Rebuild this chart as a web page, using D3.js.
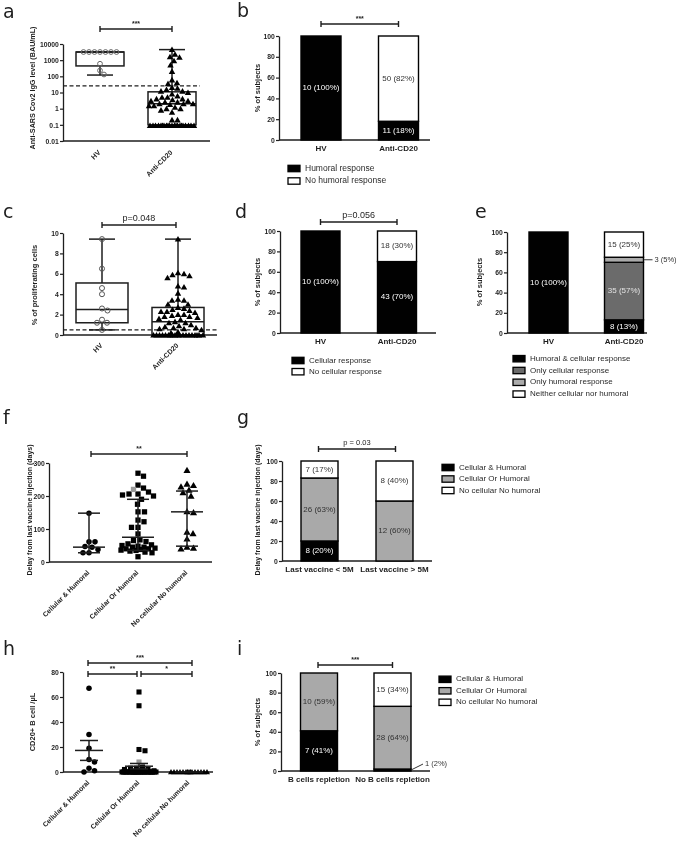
<!DOCTYPE html>
<html><head><meta charset="utf-8">
<script src="https://cdn.jsdelivr.net/npm/d3@7"></script>
<style>html,body{margin:0;padding:0;background:#fff;overflow:hidden}svg{display:block;opacity:0.999;will-change:transform}</style>
</head><body>
<svg id="c" width="676" height="842"></svg>
<script>
// ================= DATA =================
const grpHV = ["HV", "Anti-CD20"];
const grp3 = ["Cellular & Humoral", "Cellular Or Humoral", "No cellular No humoral"];
const grpDelay = ["Last vaccine < 5M", "Last vaccine > 5M"];
const grpBcell = ["B cells repletion", "No B cells repletion"];

// (a) anti-SARS-CoV2 IgG, BAU/mL
const iggHV = [3200, 3200, 3200, 3200, 3200, 3200, 3200, 600, 230, 130];
const iggCD20 = [0.09,0.09,0.09,0.09,0.09,0.09,0.09,0.09,0.09,0.09,0.09,0.09,0.09,0.09,0.09,0.09,0.09,0.09,0.09,0.09,0.09,
  0.2, 0.2, 0.6, 0.8, 1, 1, 1.2, 1.5, 1.5, 1.8,
  2, 2, 2, 2.5, 2.5, 3, 3, 3.5, 4, 4, 5, 5, 6, 8, 10, 12, 12, 15, 18, 20, 35, 40, 60,
  200, 500, 900, 1500, 1600, 2300, 4500];
const iggBoxHV = [120, 440, 3200, 3200, 3200];     // min, q1, median, q3, max
const iggBoxCD20 = [0.085, 0.1, 2, 11, 4500];
const iggCutoff = 26;
const iggTicks = [0.01, 0.1, 1, 10, 100, 1000, 10000];

// (b) humoral response
const humoralSeries = ["Humoral response", "No humoral response"];
const humoralPct = [[100, 0], [18, 82]];
const humoralN = [[10, 0], [11, 50]];

// (c) % proliferating cells
const prolHV = [9.4, 6.5, 4.6, 4.0, 2.6, 2.4, 1.5, 1.2, 1.2, 0.5];
const prolCD20 = [9.4, 6.1, 6.0, 5.9, 5.8, 5.6, 4.8, 4.7, 4.1, 3.5, 3.4, 3.4, 3.0, 3.0,
  2.7, 2.6, 2.5, 2.4, 2.3, 2.3, 2.2, 2.0, 2.0, 1.9, 1.8, 1.8, 1.7, 1.6, 1.5, 1.3, 1.2, 1.2, 1.0,
  0.9, 0.8, 0.7, 0.7, 0.6, 0.6, 0.5, 0.3, 0.2,
  0,0,0,0,0,0,0,0,0,0,0,0,0,0,0,0,0,0,0];
const prolBoxHV = [0.5, 1.2, 2.5, 5.1, 9.4];
const prolBoxCD20 = [0, 0, 1.3, 2.7, 9.4];
const prolCutoff = 0.5;
const prolTicks = [0, 2, 4, 6, 8, 10];

// (d) cellular response
const cellSeries = ["Cellular response", "No cellular response"];
const cellPct = [[100, 0], [70, 30]];
const cellN = [[10, 0], [43, 18]];

// (e) combined response
const combSeries = ["Humoral & cellular response", "Only cellular response", "Only humoral response", "Neither cellular nor humoral"];
const combPct = [[100, 0, 0, 0], [13, 57, 5, 25]];
const combN = [[10, 0, 0, 0], [8, 35, 3, 15]];

// (f) delay from last vaccine injection (days)
const delayCH = [148, 61, 61, 47, 45, 38, 28, 28];
const delayCOH = [269, 260, 233, 224, 212, 206, 206, 203, 200, 190, 175, 152, 152, 127, 122, 105, 105, 85,
  67, 65, 62, 55, 52, 50, 48, 45, 45, 42, 40, 40, 38, 36, 35, 33, 30, 28, 16];
const delayCOHgrey = [220];
const delayNCNH = [278, 236, 232, 228, 218, 210, 200, 153, 150, 91, 86, 70, 45, 42, 40];
const delayMedian = [45, 75, 152];
const delayLow = [28, 35, 48];
const delayHigh = [148, 190, 215];
const delayTicks = [0, 100, 200, 300];

// (g) by delay category
const respSeries = ["Cellular & Humoral", "Cellular Or Humoral", "No cellular No humoral"];
const delayPct = [[20, 63, 17], [0, 60, 40]];
const delayN = [[8, 26, 7], [0, 12, 8]];

// (h) CD20+ B cells /µL
const bcellCH = [67, 30, 19, 10, 8, 3, 1, 0];
const bcellCOH = [64, 53, 18, 17, 4, 3, 3, 2, 2, 1, 1, 0,0,0,0,0,0,0,0,0,0,0,0,0,0,0,0,0,0,0,0,0,0,0,0,0,0];
const bcellCOHgrey = [8];
const bcellNCNH = [0,0,0,0,0,0,0,0,0,0,0,0,0,0,0];
const bcellTicks = [0, 20, 40, 60, 80];

// (i) by B cell repletion
const replPct = [[41, 59, 0], [2, 64, 34]];
const replN = [[7, 10, 0], [1, 28, 15]];

const pctTicks = [0, 20, 40, 60, 80, 100];

// ================= DRAWING =================
const svg = d3.select("#c");
const FONT = '"Liberation Sans", Arial, Helvetica, sans-serif';
const INK = "#1e1e1e";
const C_BLACK = "#000000", C_DARK = "#6b6b6b", C_LIGHT = "#ababab", C_WHITE = "#ffffff", C_GREY = "#a9a9a9";

function txt(x, y, s, size, o = {}) {
  return svg.append("text").attr("x", x).attr("y", y).text(s)
    .attr("font-family", o.family || FONT).attr("font-size", size)
    .attr("font-weight", o.bold ? "bold" : "normal")
    .attr("fill", o.fill || INK).attr("text-anchor", o.anchor || "start")
    .attr("dominant-baseline", o.base || "auto");
}
function yTitle(x, cy, s, size) {
  svg.append("text").attr("transform", `translate(${x},${cy}) rotate(-90)`)
    .attr("text-anchor", "middle").attr("dominant-baseline", "middle")
    .attr("font-family", FONT).attr("font-size", size).attr("font-weight", "bold")
    .attr("fill", INK).text(s);
}
function rotLabel(x, y, s, size) {
  svg.append("text").attr("transform", `translate(${x},${y}) rotate(-45)`)
    .attr("text-anchor", "end").attr("font-family", FONT).attr("font-size", size)
    .attr("font-weight", "bold").attr("fill", INK).text(s);
}
function line(x1, y1, x2, y2, w = 1.4, o = {}) {
  return svg.append("line").attr("x1", x1).attr("y1", y1).attr("x2", x2).attr("y2", y2)
    .attr("stroke", o.stroke || INK).attr("stroke-width", w)
    .attr("stroke-dasharray", o.dash || null);
}
function yAxis(scale, x, ticks, fmt) {
  const ax = d3.axisLeft(scale).tickValues(ticks).tickSize(3).tickSizeOuter(0).tickPadding(1.2)
    .tickFormat(fmt || d3.format("d"));
  const g = svg.append("g").attr("transform", `translate(${x},0)`).call(ax);
  g.select(".domain").attr("stroke", INK).attr("stroke-width", 1.3);
  g.selectAll(".tick line").attr("stroke", INK).attr("stroke-width", 1.2);
  g.selectAll(".tick text").attr("font-family", FONT).attr("font-size", 6.8)
    .attr("font-weight", "bold").attr("fill", INK);
  return g;
}
function sigBar(x1, x2, y, label, size, bold) {
  line(x1, y, x2, y, 1.4);
  line(x1, y - 3, x1, y + 3, 1.4);
  line(x2, y - 3, x2, y + 3, 1.4);
  txt((x1 + x2) / 2, y - (bold ? 3 : 4), label, size, { anchor: "middle", bold: !!bold });
}
function letter(x, y, s) { txt(x, y, s, 19, { family: '"DejaVu Sans", Arial, sans-serif' }); }

function swarm(vals, y, cx, r, half) {
  const pts = vals.map(v => ({ v, y: y(v) }));
  const order = d3.range(pts.length).sort((a, b) => pts[a].y - pts[b].y);
  const cands = d3.range(-half, half + 0.01, 0.5).sort((a, b) => Math.abs(a) - Math.abs(b) || b - a);
  const placed = [];
  for (const i of order) {
    const p = pts[i]; let best = 0, bestD = -1;
    for (const o of cands) {
      let dmin = Infinity;
      for (const q of placed) { const d = Math.hypot(cx + o - q.x, p.y - q.y); if (d < dmin) dmin = d; }
      if (dmin >= 2 * r) { best = o; bestD = Infinity; break; }
      if (dmin > bestD) { bestD = dmin; best = o; }
    }
    p.x = cx + best; placed.push(p);
  }
  return pts;
}
function drawPts(pts, kind, o = {}) {
  const sym = kind === "tri" ? d3.symbolTriangle : kind === "sq" ? d3.symbolSquare : d3.symbolCircle;
  const size = o.size || (kind === "tri" ? 18 : kind === "sq" ? 24 : 20);
  svg.append("g").selectAll("path").data(pts).join("path")
    .attr("transform", d => `translate(${d.x},${d.y + (kind === "tri" ? 0.6 : 0)})`)
    .attr("d", d3.symbol(sym, size))
    .attr("fill", o.fill || "#000").attr("stroke", o.stroke || "none")
    .attr("stroke-width", o.sw || 0);
}
function boxPlot(stats, cx, y, w, capW) {
  const [mn, q1, md, q3, mx] = stats;
  line(cx, y(mx), cx, y(q3), 1.5); line(cx, y(q1), cx, y(mn), 1.5);
  line(cx - capW / 2, y(mx), cx + capW / 2, y(mx), 1.5);
  line(cx - capW / 2, y(mn), cx + capW / 2, y(mn), 1.5);
  svg.append("rect").attr("x", cx - w / 2).attr("y", y(q3)).attr("width", w)
    .attr("height", Math.max(0.5, y(q1) - y(q3))).attr("fill", "none").attr("stroke", INK).attr("stroke-width", 1.5);
  line(cx - w / 2, y(md), cx + w / 2, y(md), 1.5);
}
function legend(x, y0, dy, labels, colors, size) {
  labels.forEach((l, i) => {
    svg.append("rect").attr("x", x).attr("y", y0 + i * dy - 3.2).attr("width", 12).attr("height", 6.4)
      .attr("fill", colors[i]).attr("stroke", "#000").attr("stroke-width", 1.3);
    txt(x + 17, y0 + i * dy, l, size, { base: "middle", fill: "#2a2a2a" });
  });
}
function labelColor(c) { return c === C_BLACK ? "#ffffff" : c === C_DARK ? "#e2e2e2" : "#333333"; }

function stackPanel(cfg) {
  const x = d3.scalePoint().domain(cfg.cats).range(cfg.centers);
  const y = d3.scaleLinear().domain([0, 100]).range([cfg.y0, cfg.y100]);
  const keys = d3.range(cfg.colors.length);
  const layers = d3.stack().keys(keys).value((d, k) => d[k])(cfg.pct);
  yAxis(y, cfg.axisX, pctTicks);
  line(cfg.axisX, cfg.y0, cfg.xEnd, cfg.y0, 1.3);
  layers.forEach((layer, k) => {
    layer.forEach((seg, i) => {
      if (seg[1] - seg[0] <= 0) return;
      const cx = x(cfg.cats[i]);
      svg.append("rect").attr("x", cx - cfg.bw / 2).attr("y", y(seg[1]))
        .attr("width", cfg.bw).attr("height", y(seg[0]) - y(seg[1]))
        .attr("fill", cfg.colors[k]).attr("stroke", "#000").attr("stroke-width", 1.4);
    });
  });
  layers.forEach((layer, k) => {
    layer.forEach((seg, i) => {
      const n = cfg.n[i][k];
      if (!n) return;
      const cx = x(cfg.cats[i]);
      const ym = (y(seg[0]) + y(seg[1])) / 2;
      const lab = `${n} (${cfg.pct[i][k]}%)`;
      const out = (cfg.outside || []).find(o => o.i === i && o.k === k);
      if (out) {
        const xr = cx + cfg.bw / 2;
        line(xr, ym, xr + out.dx, ym + out.dy, 0.9);
        txt(xr + out.dx + 2, ym + out.dy, lab, 7.5, { base: "middle", fill: "#333" });
      } else {
        txt(cx, ym, lab, 8, { anchor: "middle", base: "middle", fill: labelColor(cfg.colors[k]) });
      }
    });
  });
  cfg.cats.forEach(c => txt(x(c), cfg.y0 + 10.5, c, 8, { anchor: "middle", bold: true }));
  return x;
}

// ---------- (a) ----------
letter(3, 18, "a");
{
  const y = d3.scaleLog().domain([0.01, 10000]).range([141, 44]);
  const x = d3.scalePoint().domain(grpHV).range([100, 172]);
  yAxis(y, 63, iggTicks, d => d < 1 ? String(d) : d3.format("d")(d));
  line(63, 141, 210, 141, 1.3);
  line(63, y(iggCutoff), 200, y(iggCutoff), 1.2, { dash: "4,2.5" });
  boxPlot(iggBoxHV, x("HV"), y, 48, 26);
  boxPlot(iggBoxCD20, x("Anti-CD20"), y, 48, 26);
  drawPts(swarm(iggHV, y, x("HV"), 2.7, 21), "circ", { fill: "none", stroke: "#666", sw: 1, size: 18 });
  drawPts(swarm(iggCD20, y, x("Anti-CD20"), 2.7, 23), "tri");
  grpHV.forEach(g => rotLabel(x(g) + 1, 153, g, 7));
  yTitle(33, 88, "Anti-SARS Cov2 IgG level (BAU/mL)", 7.2);
  sigBar(x("HV"), x("Anti-CD20"), 29, "***", 7, true);
}

// ---------- (b) ----------
letter(237, 17, "b");
{
  const x = stackPanel({ cats: grpHV, centers: [321, 398.5], bw: 40, axisX: 279, y0: 140, y100: 36, xEnd: 430,
    pct: humoralPct, n: humoralN, colors: [C_BLACK, C_WHITE] });
  yTitle(258, 88, "% of subjects", 7.5);
  sigBar(x("HV"), x("Anti-CD20"), 24, "***", 7, true);
  legend(288, 168.5, 12.5, humoralSeries, [C_BLACK, C_WHITE], 8.5);
}

// ---------- (c) ----------
letter(3, 218, "c");
{
  const y = d3.scaleLinear().domain([0, 10]).range([335, 233]);
  const x = d3.scalePoint().domain(grpHV).range([102, 178]);
  yAxis(y, 63, prolTicks);
  line(63, 335, 217, 335, 1.3);
  line(63, y(prolCutoff), 217, y(prolCutoff), 1.1, { dash: "4,2.5" });
  boxPlot(prolBoxHV, x("HV"), y, 52, 26);
  boxPlot(prolBoxCD20, x("Anti-CD20"), y, 52, 26);
  drawPts(swarm(prolHV, y, x("HV"), 2.8, 22), "circ", { fill: "none", stroke: "#555", sw: 1, size: 20 });
  drawPts(swarm(prolCD20, y, x("Anti-CD20"), 2.8, 25), "tri");
  grpHV.forEach(g => rotLabel(x(g) + 1, 346, g, 7));
  yTitle(35, 285, "% of proliferating cells", 7.5);
  sigBar(x("HV"), x("Anti-CD20") - 2, 225, "p=0.048", 9, false);
}

// ---------- (d) ----------
letter(235, 218, "d");
{
  const x = stackPanel({ cats: grpHV, centers: [320.5, 397], bw: 39, axisX: 280, y0: 333, y100: 231, xEnd: 436,
    pct: cellPct, n: cellN, colors: [C_BLACK, C_WHITE] });
  yTitle(258, 282, "% of subjects", 7.5);
  sigBar(x("HV"), x("Anti-CD20"), 222, "p=0.056", 9, false);
  legend(292, 360.5, 11.2, cellSeries, [C_BLACK, C_WHITE], 8);
}

// ---------- (e) ----------
letter(475, 218, "e");
{
  stackPanel({ cats: grpHV, centers: [548.5, 624], bw: 39, axisX: 507, y0: 333, y100: 232, xEnd: 647,
    pct: combPct, n: combN, colors: [C_BLACK, C_DARK, C_LIGHT, C_WHITE],
    outside: [{ i: 1, k: 2, dx: 9, dy: 0 }] });
  yTitle(480, 282, "% of subjects", 7.5);
  legend(513, 358.7, 11.8, combSeries, [C_BLACK, C_DARK, C_LIGHT, C_WHITE], 8);
}

// ---------- (f) ----------
letter(3, 424, "f");
{
  const y = d3.scaleLinear().domain([0, 300]).range([562, 463]);
  const x = d3.scalePoint().domain(grp3).range([89, 187]);
  yAxis(y, 49, delayTicks);
  line(49, 562, 212, 562, 1.3);
  drawPts(swarm(delayCH, y, x(grp3[0]), 3, 12), "circ", { size: 24 });
  const coh = swarm(delayCOH.concat(delayCOHgrey), y, x(grp3[1]), 3.1, 17);
  drawPts(coh.filter(p => !delayCOHgrey.includes(p.v)), "sq", { size: 28 });
  drawPts(coh.filter(p => delayCOHgrey.includes(p.v)), "sq", { size: 28, fill: "#9a9a9a" });
  drawPts(swarm(delayNCNH, y, x(grp3[2]), 3.1, 16), "tri", { size: 22 });
  grp3.forEach((g, i) => {
    const cx = x(g);
    line(cx, y(delayHigh[i]), cx, y(delayLow[i]), 1.5);
    line(cx - 11, y(delayHigh[i]), cx + 11, y(delayHigh[i]), 1.5);
    line(cx - 11, y(delayLow[i]), cx + 11, y(delayLow[i]), 1.5);
    line(cx - 16, y(delayMedian[i]), cx + 16, y(delayMedian[i]), 1.5);
    rotLabel(cx + 1, 573, g, 7);
  });
  yTitle(30, 510, "Delay from last vaccine injection (days)", 7);
  sigBar(x(grp3[0]) + 2, x(grp3[2]), 454, "**", 7, true);
}

// ---------- (g) ----------
letter(237, 424, "g");
{
  const x = stackPanel({ cats: grpDelay, centers: [319.5, 394.5], bw: 37, axisX: 282, y0: 561, y100: 461, xEnd: 432,
    pct: delayPct, n: delayN, colors: [C_BLACK, C_GREY, C_WHITE] });
  yTitle(258, 510, "Delay from last vaccine injection (days)", 7);
  sigBar(x(grpDelay[0]) - 1, x(grpDelay[1]) + 1, 449, "p = 0.03", 7.5, false);
  legend(442, 467.5, 11.5, respSeries, [C_BLACK, C_GREY, C_WHITE], 8);
}

// ---------- (h) ----------
letter(3, 655, "h");
{
  const y = d3.scaleLinear().domain([0, 80]).range([772, 672]);
  const x = d3.scalePoint().domain(grp3).range([89, 189]);
  yAxis(y, 63, bcellTicks);
  line(63, 772, 213, 772, 1.3);
  const groups = [bcellCH, bcellCOH.concat(bcellCOHgrey), bcellNCNH];
  drawPts(swarm(groups[0], y, x(grp3[0]), 3, 12), "circ", { size: 24 });
  const coh = swarm(groups[1], y, x(grp3[1]), 3, 17);
  drawPts(coh.filter(p => !bcellCOHgrey.includes(p.v)), "sq", { size: 26 });
  drawPts(coh.filter(p => bcellCOHgrey.includes(p.v)), "sq", { size: 26, fill: "#9a9a9a" });
  drawPts(swarm(groups[2], y, x(grp3[2]), 2.8, 19), "tri", { size: 16 });
  groups.forEach((vals, i) => {
    const cx = x(grp3[i]);
    const m = d3.mean(vals), se = vals.length > 1 ? d3.deviation(vals) / Math.sqrt(vals.length) : 0;
    line(cx - 14, y(m), cx + 14, y(m), 1.5);
    if (se > 0) {
      line(cx, y(m + se), cx, y(m - se), 1.5);
      line(cx - 9, y(m + se), cx + 9, y(m + se), 1.5);
      line(cx - 9, y(m - se), cx + 9, y(m - se), 1.5);
    }
    rotLabel(cx + 1, 783, grp3[i], 7);
  });
  yTitle(33, 722, "CD20+ B cell /µL", 7.5);
  sigBar(x(grp3[0]) - 1, x(grp3[2]) + 3, 663, "***", 7, true);
  sigBar(x(grp3[0]) - 1, x(grp3[1]) - 2, 674, "**", 7, true);
  sigBar(x(grp3[1]) + 2, x(grp3[2]) + 3, 674, "*", 7, true);
}

// ---------- (i) ----------
letter(237, 655, "i");
{
  const x = stackPanel({ cats: grpBcell, centers: [319, 392.5], bw: 37, axisX: 281, y0: 771, y100: 673, xEnd: 430,
    pct: replPct, n: replN, colors: [C_BLACK, C_GREY, C_WHITE],
    outside: [{ i: 1, k: 0, dx: 12, dy: -6 }] });
  yTitle(258, 722, "% of subjects", 7.5);
  sigBar(x(grpBcell[0]) - 1, x(grpBcell[1]), 665, "***", 7, true);
  legend(439, 679.3, 11.5, respSeries, [C_BLACK, C_GREY, C_WHITE], 8);
}
</script>
</body></html>
